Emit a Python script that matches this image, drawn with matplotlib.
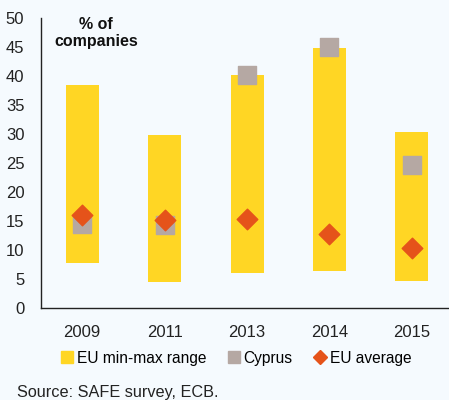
import matplotlib
matplotlib.use("Agg")
import matplotlib.pyplot as plt
from matplotlib.lines import Line2D

years = ["2009", "2011", "2013", "2014", "2015"]
eu_min = [7.8, 4.5, 6.1, 6.4, 4.7]
eu_max = [38.5, 29.9, 40.2, 44.9, 30.4]
cyprus = [14.5, 14.3, 40.2, 45.0, 24.7]
eu_avg = [16.0, 15.1, 15.3, 12.8, 10.3]
y_ticks = [0, 5, 10, 15, 20, 25, 30, 35, 40, 45, 50]

bg = "#F5FAFE"
yellow = "#FFD624"
grey = "#B5A8A3"
orange = "#E5531A"

plt.rcParams['font.family'] = ['Liberation Sans', 'DejaVu Sans']

fig = plt.figure(figsize=(4.49, 4.0), dpi=100, facecolor=bg)
ax = fig.add_axes([41/449, 1 - 308/400, (449 - 41)/449, (308 - 18)/400])
ax.set_facecolor(bg)

x = list(range(len(years)))
heights = [mx - mn for mn, mx in zip(eu_min, eu_max)]
ax.bar(x, heights, bottom=eu_min, width=0.4, color=yellow, zorder=2)
ax.scatter(x, cyprus, marker='s', s=150, color=grey, zorder=3)
ax.scatter(x, eu_avg, marker='D', s=110, color=orange, zorder=4)

ax.set_xlim(-0.5, 4.45)
ax.set_ylim(0, 50)
ax.set_yticks(y_ticks)
ax.set_xticks(x)
ax.set_xticklabels(years)
ax.tick_params(axis='both', length=0, labelsize=12, colors='#222222')
ax.tick_params(axis='x', pad=12)
ax.tick_params(axis='y', pad=12)
for s in ['top', 'right']:
    ax.spines[s].set_visible(False)
for s in ['left', 'bottom']:
    ax.spines[s].set_color('#222222')
    ax.spines[s].set_linewidth(1.0)

fig.text(96/449, 1 - 33/400, "% of\ncompanies", ha='center', va='center',
         fontsize=11.5, fontweight='bold', linespacing=1.1, color='#111111')

handles = [
    Line2D([], [], marker='s', linestyle='none', markersize=9, color=yellow),
    Line2D([], [], marker='s', linestyle='none', markersize=9, color=grey),
    Line2D([], [], marker='D', linestyle='none', markersize=7, color=orange),
]
labels = ["EU min-max range", "Cyprus", "EU average"]
fig.legend(handles, labels, loc='center', bbox_to_anchor=(237/449, 1 - 358/400),
           ncol=3, frameon=False, fontsize=11.2, handlelength=0.6, handletextpad=0.3,
           columnspacing=1.5)

fig.text(17/449, 1 - 392/400, "Source: SAFE survey, ECB.", ha='left', va='center',
         fontsize=11.7, color='#222222')

fig.savefig("out.png", dpi=100, facecolor=bg)
